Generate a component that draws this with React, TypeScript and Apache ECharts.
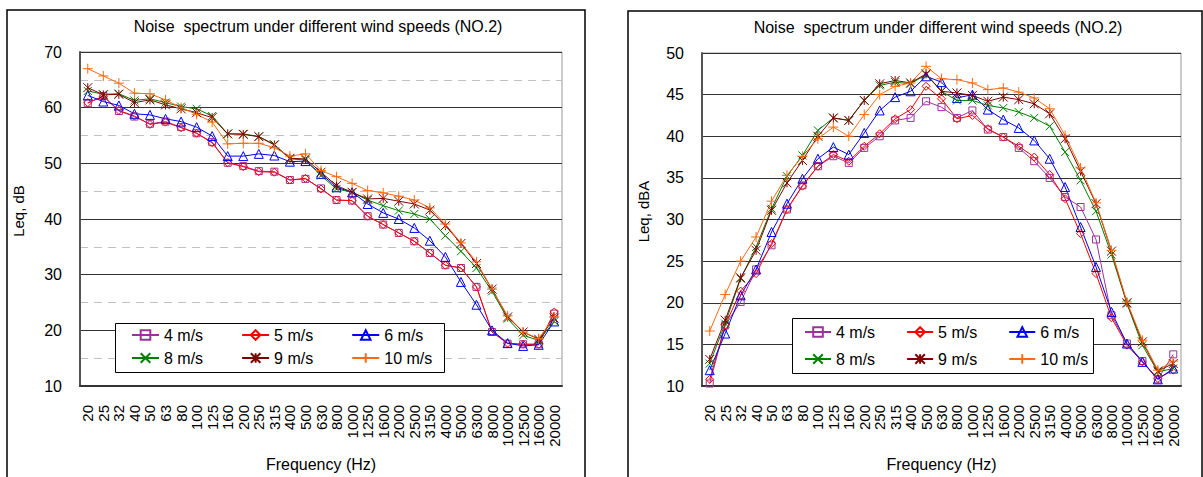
import React, { useEffect, useRef } from 'react';
import * as echarts from 'echarts';

const FREQ = ['20','25','32','40','50','63','80','100','125','160','200','250','315','400','500','630','800','1000','1250','1600','2000','2500','3150','4000','5000','6300','8000','10000','12500','16000','20000'];
const SPEEDS = ['4 m/s','5 m/s','6 m/s','8 m/s','9 m/s','10 m/s'];
const LEGEND_ROW1 = ['4 m/s','5 m/s','6 m/s'];
const LEGEND_ROW2 = ['8 m/s','9 m/s','10 m/s'];
const TITLE = 'Noise  spectrum under different wind speeds (NO.2)';

// Left chart: Leq, dB
const DB_4 = [60.8,62.1,59.4,58.4,57.1,57.5,56.5,55.4,53.8,50.1,49.5,48.6,48.5,47.0,47.2,45.5,43.4,43.3,40.5,39.0,37.5,36.0,33.9,31.7,31.2,27.8,19.7,17.6,17.5,17.5,23.0];
const DB_5 = [60.9,62.0,59.5,58.5,57.0,57.4,56.4,55.4,53.7,50.1,49.4,48.5,48.4,47.0,47.3,45.4,43.4,43.3,40.5,39.0,37.5,36.0,33.9,31.7,31.2,27.8,19.7,17.7,17.5,17.5,23.3];
const DB_6 = [62.2,61.1,60.4,58.9,58.7,58.0,57.5,56.5,54.9,51.3,51.3,51.7,51.4,50.3,50.4,48.1,45.7,44.8,42.7,41.1,40.0,38.4,36.1,33.2,28.7,24.6,20.0,17.7,17.2,17.4,21.6];
const DB_8 = [63.0,62.4,62.5,61.3,61.6,60.9,60.2,59.8,58.5,55.3,55.3,54.8,53.4,50.8,50.6,47.8,45.4,44.8,43.4,42.4,41.5,40.9,40.0,37.0,34.2,31.2,27.0,22.1,19.1,18.2,21.6];
const DB_9 = [63.6,62.3,62.4,60.9,61.4,60.5,59.8,59.1,58.2,55.3,55.2,54.8,53.3,50.9,50.8,48.4,46.0,44.8,43.6,43.7,43.2,42.7,41.6,38.8,35.6,32.0,27.4,22.4,19.7,18.4,22.2];
const DB_10 = [67.0,65.7,64.4,62.6,62.5,61.4,60.0,58.8,57.4,53.5,53.6,53.6,52.8,51.3,51.7,48.7,47.6,46.4,45.1,44.7,44.1,43.4,42.0,39.1,35.7,32.3,27.4,22.6,19.7,18.5,22.4];

// Right chart: Leq, dBA
const DBA_4 = [10.3,17.3,20.1,24.0,26.9,31.2,34.1,36.4,37.6,36.8,38.6,40.0,41.9,42.2,44.2,43.5,42.2,43.1,40.8,39.9,38.6,37.0,35.0,32.7,31.5,27.6,18.5,15.1,13.0,10.8,13.8];
const DBA_5 = [10.8,17.3,21.4,23.5,27.1,31.2,34.0,36.4,37.8,37.0,38.8,40.3,42.1,43.2,46.0,44.5,42.1,42.5,40.9,39.9,38.8,37.5,35.4,32.5,28.3,23.5,18.2,14.9,12.9,10.9,11.9];
const DBA_6 = [11.9,16.3,20.9,24.0,28.5,31.9,34.9,37.3,38.7,37.8,40.4,43.1,44.7,45.4,47.2,46.5,44.6,45.0,43.2,42.0,41.0,39.5,37.3,33.9,29.1,24.3,18.9,15.1,12.9,10.8,12.1];
const DBA_8 = [12.7,17.5,22.9,26.7,31.3,35.2,37.7,40.7,42.2,41.9,44.3,46.1,46.5,46.3,47.4,45.4,44.3,44.3,43.7,43.4,42.9,42.2,41.2,38.1,34.7,31.0,25.8,19.9,14.9,11.7,12.1];
const DBA_9 = [13.2,17.9,23.0,26.3,31.1,34.4,37.1,40.0,42.2,41.9,44.3,46.3,46.7,46.4,47.5,45.4,45.2,44.9,44.2,44.7,44.4,43.9,42.7,39.7,35.8,31.9,26.2,20.0,15.3,11.8,12.7];
const DBA_10 = [16.6,21.0,25.0,27.9,32.2,35.3,37.6,39.7,41.1,40.0,42.6,45.0,46.0,46.4,48.4,46.9,46.8,46.4,45.6,45.8,45.3,44.6,43.3,40.1,36.2,32.0,26.3,20.1,15.5,11.9,13.0];

const LEFT_SERIES = [DB_4, DB_5, DB_6, DB_8, DB_9, DB_10];
const RIGHT_SERIES = [DBA_4, DBA_5, DBA_6, DBA_8, DBA_9, DBA_10];

const COLORS = ['#993399', '#ff0000', '#0000ff', '#008000', '#800000', '#ff6a10'];
const SYM_SQ = 'path://M0,0 L10,0 L10,10 L0,10 Z';
const SYM_DIA = 'path://M5,0 L10,5 L5,10 L0,5 Z';
const SYM_TRI = 'path://M5,0 L10,9 L0,9 Z';
const SYM_X = 'path://M0,0 L10,10 M0,10 L10,0';
const SYM_STAR = 'path://M0,0 L10,10 M0,10 L10,0 M5,0 L5,10';
const SYM_PLUS = 'path://M5,0 L5,10 M0,5 L10,5';
const SYMBOLS = [SYM_SQ, SYM_DIA, SYM_TRI, SYM_X, SYM_STAR, SYM_PLUS];
const SIZES = [7, 8, 9, 8, 9, 10];

const FONT = '"Liberation Sans", Arial, sans-serif';

export default function App() {
  const ref = useRef<HTMLDivElement>(null);
  useEffect(() => {
    if (!ref.current) return;
    const chart = echarts.init(ref.current, undefined, { renderer: 'svg' });

    const mkSeries = (data: number[], k: number, gi: number) => ({
      type: 'line',
      name: SPEEDS[k],
      data,
      xAxisIndex: gi,
      yAxisIndex: gi,
      symbol: SYMBOLS[k],
      symbolSize: SIZES[k],
      showAllSymbol: true,
      lineStyle: { color: COLORS[k], width: 1 },
      itemStyle: { color: 'rgba(255,255,255,0)', borderColor: COLORS[k], borderWidth: 1 },
      emphasis: { disabled: true },
      z: 3,
    });

    const xAxisCfg = (gi: number) => ({
      gridIndex: gi,
      type: 'category',
      data: FREQ,
      boundaryGap: true,
      axisLine: { lineStyle: { color: '#333', width: 2 } },
      axisTick: { inside: true, length: 5, lineStyle: { color: '#333', width: 1 } },
      axisLabel: { rotate: 90, interval: 0, margin: 19, fontSize: 15, color: '#000', fontFamily: FONT },
      splitLine: { show: false },
      name: 'Frequency (Hz)',
      nameLocation: 'middle',
      nameGap: 70,
      nameTextStyle: { fontSize: 16, color: '#000', fontFamily: FONT },
    });

    const legendCfg = (data: string[], left: number, top: number, itemGap: number, iw: number) => ({
      data,
      left,
      top,
      orient: 'horizontal',
      padding: 0,
      itemGap,
      itemWidth: iw,
      itemHeight: 12,
      selectedMode: false,
      z: 20,
      textStyle: { fontSize: 16, color: '#000', fontFamily: FONT },
    });

    const yName = (name: string, gap: number) => ({
      name,
      nameLocation: 'middle',
      nameGap: gap,
      nameRotate: 90,
      nameTextStyle: { fontSize: 15, color: '#000', fontFamily: FONT, padding: [0, 0, 0, 16] },
    });

    const option: any = {
      animation: false,
      backgroundColor: '#fff',
      textStyle: { fontFamily: FONT },
      grid: [
        { left: 80, top: 52, width: 482, height: 335, show: true, borderColor: '#999', borderWidth: 1, backgroundColor: 'transparent' },
        { left: 702, top: 53, width: 479, height: 334, show: true, borderColor: '#999', borderWidth: 1, backgroundColor: 'transparent' },
      ],
      xAxis: [xAxisCfg(0), xAxisCfg(1)],
      yAxis: [
        {
          gridIndex: 0,
          type: 'value',
          min: 10,
          max: 70,
          interval: 10,
          axisLine: { show: true, lineStyle: { color: '#555', width: 2 } },
          axisTick: { show: false },
          axisLabel: { fontSize: 16, margin: 18, color: '#000', fontFamily: FONT },
          splitLine: { show: true, lineStyle: { color: '#333', width: 1 } },
          minorTick: { show: false, splitNumber: 2 },
          minorSplitLine: { show: true, lineStyle: { color: '#c0c0c0', width: 1, type: [8, 6] } },
          ...yName('Leq, dB', 54),
        },
        {
          gridIndex: 1,
          type: 'value',
          min: 10,
          max: 50,
          interval: 5,
          axisLine: { show: true, lineStyle: { color: '#555', width: 2 } },
          axisTick: { show: false },
          axisLabel: { fontSize: 16, margin: 18, color: '#000', fontFamily: FONT },
          splitLine: { show: true, lineStyle: { color: '#333', width: 1 } },
          ...yName('Leq, dBA', 51),
        },
      ],
      legend: [
        legendCfg(LEGEND_ROW1, 131, 327, 38, 27),
        legendCfg(LEGEND_ROW2, 131, 350, 38, 27),
        legendCfg(LEGEND_ROW1, 804, 324, 31, 26),
        legendCfg(LEGEND_ROW2, 804, 351, 31, 26),
      ],
      graphic: [
        { type: 'rect', shape: { x: 7, y: 10, width: 578, height: 490 }, style: { fill: 'none', stroke: '#000', lineWidth: 1.5 }, silent: true, z: 0 },
        { type: 'rect', shape: { x: 628, y: 11, width: 574, height: 490 }, style: { fill: 'none', stroke: '#000', lineWidth: 1.5 }, silent: true, z: 0 },
        { type: 'rect', shape: { x: 115.5, y: 323.5, width: 329, height: 49 }, style: { fill: '#fff', stroke: '#000', lineWidth: 1 }, silent: true, z: 10 },
        { type: 'rect', shape: { x: 792.5, y: 318.5, width: 301, height: 55 }, style: { fill: '#fff', stroke: '#000', lineWidth: 1 }, silent: true, z: 10 },
        { type: 'text', x: 318, y: 26, style: { text: TITLE, align: 'center', verticalAlign: 'middle', fontSize: 16, fontFamily: FONT, fill: '#000' }, silent: true },
        { type: 'text', x: 938, y: 27, style: { text: TITLE, align: 'center', verticalAlign: 'middle', fontSize: 16, fontFamily: FONT, fill: '#000' }, silent: true },
      ],
      series: [
        ...LEFT_SERIES.map((d, k) => mkSeries(d, k, 0)),
        ...RIGHT_SERIES.map((d, k) => mkSeries(d, k, 1)),
      ],
    };

    chart.setOption(option);
    return () => chart.dispose();
  }, []);

  return <div ref={ref} style={{ position: 'fixed', left: 0, top: 0, width: 1203, height: 477 }} />;
}
